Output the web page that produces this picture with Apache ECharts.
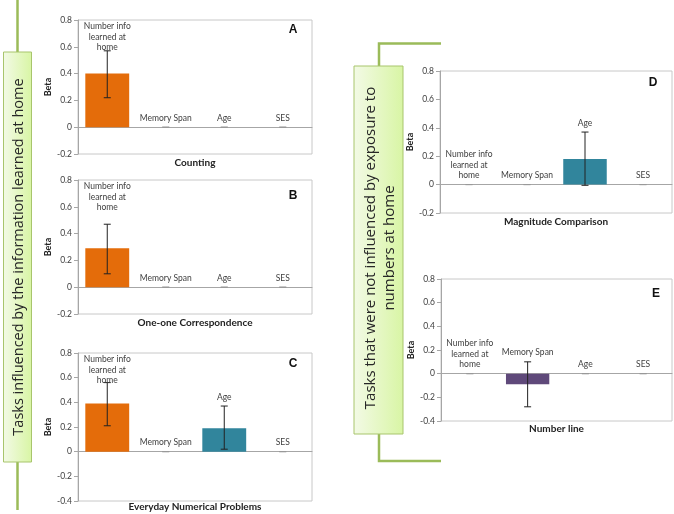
<!DOCTYPE html>
<html>
<head>
<meta charset="utf-8">
<script src="https://cdn.jsdelivr.net/npm/echarts@6/dist/echarts.min.js"></script>
<style>
html,body{margin:0;padding:0;background:#fff;}
#chart{width:674px;height:514px;}
</style>
</head>
<body>
<div id="chart"></div>
<script>
// ---------- data ----------
const categories = ['Number info\nlearned at\nhome', 'Memory Span', 'Age', 'SES'];
const panelTitles = ['Counting', 'One-one Correspondence', 'Everyday Numerical Problems', 'Magnitude Comparison', 'Number line'];
const panelLetters = ['A', 'B', 'C', 'D', 'E'];
const yTickMin = [-0.2, -0.2, -0.4, -0.2, -0.4];
const yTickMax = 0.8;
const yTickStep = 0.2;

const betaA = [0.40, 0, 0, 0];
const lowA  = [0.22, 0, 0, 0];
const highA = [0.57, 0, 0, 0];

const betaB = [0.29, 0, 0, 0];
const lowB  = [0.10, 0, 0, 0];
const highB = [0.47, 0, 0, 0];

const betaC = [0.39, 0, 0.19, 0];
const lowC  = [0.21, 0, 0.02, 0];
const highC = [0.56, 0, 0.37, 0];

const betaD = [0, 0, 0.18, 0];
const lowD  = [0, 0, -0.005, 0];
const highD = [0, 0, 0.37, 0];

const betaE = [0, -0.09, 0, 0];
const lowE  = [0, -0.28, 0, 0];
const highE = [0, 0.10, 0, 0];

const leftBoxText = 'Tasks influenced by the information learned at home';
const rightBoxText = 'Tasks that were not influenced by exposure to\nnumbers at home';

// ---------- styling / layout ----------
const catColors = ['#E46C0A', '#5F497A', '#31859C', '#31859C'];
const panels = [
  {beta: betaA, low: lowA, high: highA, grid: {left: 78, top: 20, width: 234, height: 134}, letter: [293, 30], titleY: 163},
  {beta: betaB, low: lowB, high: highB, grid: {left: 78, top: 180, width: 234, height: 134}, letter: [293, 196], titleY: 323},
  {beta: betaC, low: lowC, high: highC, grid: {left: 78, top: 353, width: 234, height: 148}, letter: [293, 364], titleY: 507},
  {beta: betaD, low: lowD, high: highD, grid: {left: 440, top: 71, width: 232, height: 142}, letter: [653, 83], titleY: 222},
  {beta: betaE, low: lowE, high: highE, grid: {left: 441, top: 279, width: 231, height: 142}, letter: [656, 294], titleY: 429}
];
const FONT = 'Lato, "Open Sans", sans-serif';
const LH = 10.4;

function renderErr(params, api) {
  const i = api.value(0);
  const v = api.value(1), lo = api.value(2), hi = api.value(3);
  const cs = params.coordSys;
  const pHi = api.coord([i, hi]);
  const pLo = api.coord([i, lo]);
  const x = pHi[0];
  const cap = 3.5;
  const stroke = '#222';
  const children = [
    {type: 'line', shape: {x1: x, y1: pHi[1], x2: x, y2: pLo[1]}, style: {stroke: stroke, lineWidth: 1}},
    {type: 'line', shape: {x1: x - cap, y1: pHi[1], x2: x + cap, y2: pHi[1]}, style: {stroke: hi === lo ? '#999' : stroke, lineWidth: 1}},
    {type: 'line', shape: {x1: x - cap, y1: pLo[1], x2: x + cap, y2: pLo[1]}, style: {stroke: hi === lo ? '#999' : stroke, lineWidth: 1}}
  ];
  const txt = categories[i];
  const nLines = txt.split('\n').length;
  const h = nLines * LH;
  const anchor = Math.max(0, v, hi);
  let yb = api.coord([i, anchor])[1] - 4;
  let yt = yb - h;
  if (yt < cs.y + 20) yt = cs.y + 1.5;
  children.push({
    type: 'text',
    style: {text: txt, x: x, y: yt, align: 'center', verticalAlign: 'top',
            fontSize: 8.5, fontFamily: FONT, fill: '#404040', lineHeight: LH}
  });
  return {type: 'group', children: children};
}

const grids = [], xAxes = [], yAxes = [], series = [], graphics = [];
panels.forEach((p, k) => {
  grids.push(Object.assign({show: true, borderColor: '#c8c8c8', borderWidth: 1, backgroundColor: 'transparent'}, p.grid));
  xAxes.push({
    type: 'category', gridIndex: k, data: categories,
    axisLine: {onZero: true, lineStyle: {color: '#a6a6a6', width: 1}},
    axisTick: {show: false}, axisLabel: {show: false}, splitLine: {show: false}
  });
  yAxes.push({
    type: 'value', gridIndex: k, min: yTickMin[k], max: yTickMax, interval: yTickStep,
    name: 'Beta', nameLocation: 'middle', nameGap: 25,
    nameTextStyle: {fontFamily: FONT, fontWeight: 'bold', fontSize: 9, color: '#222'},
    axisLine: {show: true, lineStyle: {color: '#a6a6a6'}},
    axisTick: {show: true, length: 4, lineStyle: {color: '#a6a6a6'}},
    axisLabel: {fontFamily: FONT, fontSize: 8.5, color: '#404040', margin: 6},
    splitLine: {show: false}
  });
  series.push({
    type: 'bar', xAxisIndex: k, yAxisIndex: k, barCategoryGap: '25%',
    data: p.beta.map((v, i) => ({value: v, itemStyle: {color: catColors[i]}})),
    silent: true, animation: false
  });
  series.push({
    type: 'custom', xAxisIndex: k, yAxisIndex: k, renderItem: renderErr, clip: false,
    encode: {x: 0, y: [2, 3]},
    data: p.beta.map((v, i) => [i, v, p.low[i], p.high[i]]),
    silent: true, animation: false, z: 5
  });
  const cx = p.grid.left + p.grid.width / 2;
  graphics.push({type: 'text', x: cx, y: p.titleY, style: {text: panelTitles[k], align: 'center', verticalAlign: 'middle',
    fontFamily: FONT, fontWeight: 'bold', fontSize: 10, fill: '#222'}});
  graphics.push({type: 'text', x: p.letter[0], y: p.letter[1], style: {text: panelLetters[k], align: 'center', verticalAlign: 'middle',
    fontFamily: '"Liberation Sans", Arial, sans-serif', fontWeight: 'bold', fontSize: 12, fill: '#111'}});
});

// decorative boxes and connectors
const green = '#9BBB59';
const boxFill = {type: 'linear', x: 0, y: 0, x2: 1, y2: 0, colorStops: [{offset: 0, color: '#f3fae6'}, {offset: 1, color: '#d8f5a4'}]};
graphics.push({type: 'line', shape: {x1: 17.5, y1: 0, x2: 17.5, y2: 52}, style: {stroke: green, lineWidth: 2.5}});
graphics.push({type: 'line', shape: {x1: 17.5, y1: 462, x2: 17.5, y2: 510}, style: {stroke: green, lineWidth: 2.5}});
graphics.push({type: 'rect', shape: {x: 3.5, y: 52, width: 28, height: 410}, style: {fill: boxFill, stroke: '#a8c56c', lineWidth: 1}});
graphics.push({type: 'text', x: 19, y: 257, rotation: Math.PI / 2,
  style: {text: leftBoxText, x: 0, y: 0, align: 'center', verticalAlign: 'middle', fontFamily: '"Open Sans", sans-serif', fontSize: 14.5, fill: '#262626'}});

graphics.push({type: 'polyline', shape: {points: [[441, 43.5], [379, 43.5], [379, 66]]}, style: {stroke: green, lineWidth: 2.5, fill: null}});
graphics.push({type: 'polyline', shape: {points: [[379, 434], [379, 461], [441, 461]]}, style: {stroke: green, lineWidth: 2.5, fill: null}});
graphics.push({type: 'rect', shape: {x: 354, y: 66, width: 49, height: 368}, style: {fill: boxFill, stroke: '#a8c56c', lineWidth: 1}});
graphics.push({type: 'text', x: 380.5, y: 248, rotation: Math.PI / 2,
  style: {text: rightBoxText, x: 0, y: 0, align: 'center', verticalAlign: 'middle', lineHeight: 19,
          fontFamily: '"Open Sans", sans-serif', fontSize: 15, fill: '#262626'}});

const chart = echarts.init(document.getElementById('chart'), null, {renderer: 'canvas'});
chart.setOption({
  backgroundColor: '#ffffff',
  animation: false,
  grid: grids, xAxis: xAxes, yAxis: yAxes, series: series,
  graphic: {elements: graphics}
});
</script>
</body>
</html>
